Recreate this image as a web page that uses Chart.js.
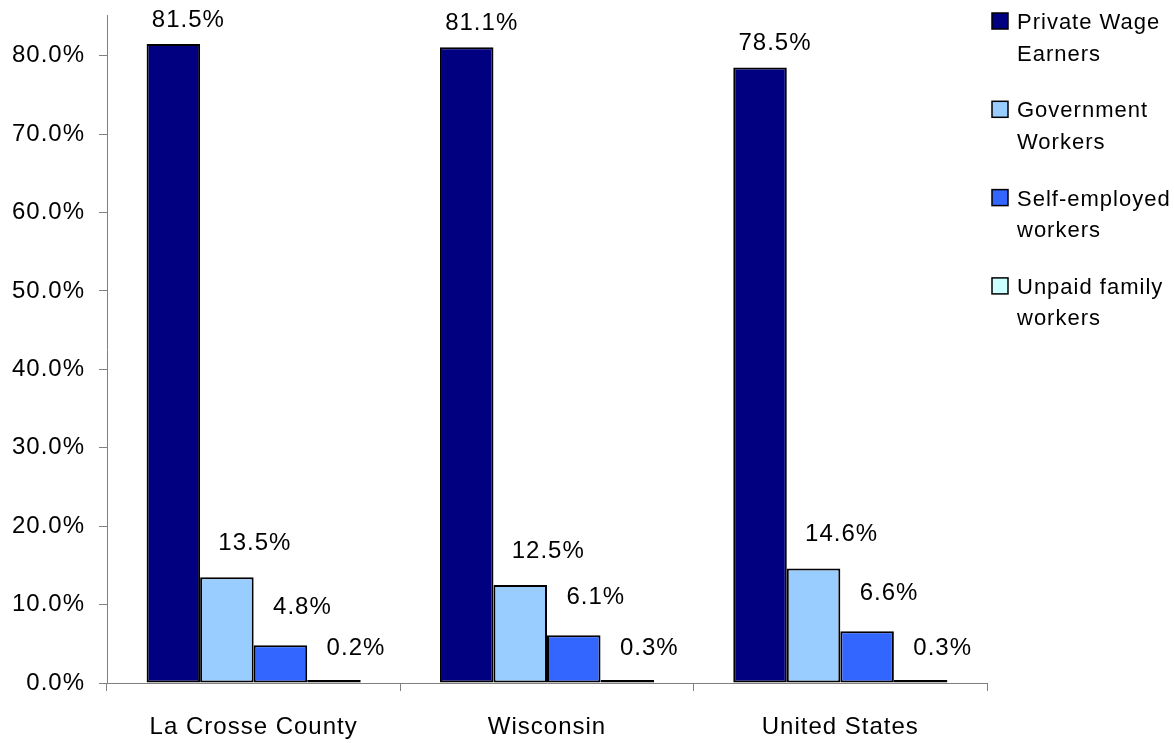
<!DOCTYPE html>
<html>
<head>
<meta charset="utf-8">
<title>Class of worker</title>
<script src="https://cdn.jsdelivr.net/npm/chart.js@4.4.1/dist/chart.umd.min.js"></script>
<style>
  html, body { margin: 0; padding: 0; background: #fff; }
  #wrap { width: 1174px; height: 743px; }
</style>
</head>
<body>
<div id="wrap"><canvas id="workerChart"></canvas></div>
<script>
// Class of worker shares (%)
const areas = ['La Crosse County', 'Wisconsin', 'United States'];
const seriesNames = [
    ['Private Wage', 'Earners'],
    ['Government', 'Workers'],
    ['Self-employed', 'workers'],
    ['Unpaid family', 'workers']
];
const privateWage = [81.5, 81.1, 78.5];
const government = [13.5, 12.5, 14.6];
const selfEmployed = [4.8, 6.1, 6.6];
const unpaidFamily = [0.2, 0.3, 0.3];
const yTicks = [0, 10, 20, 30, 40, 50, 60, 70, 80];

const colors = ['#000080', '#99CCFF', '#3366FF', '#CCFFFF'];
const FONT = '"Liberation Sans", Arial, sans-serif';

// canvas state gets reset on resize, so put the letter spacing back every time
const spacing = {
    id: 'spacing',
    beforeUpdate(chart) { chart.ctx.letterSpacing = '1px'; },
    beforeDraw(chart) { chart.ctx.letterSpacing = '1px'; }
};

// value labels, nudged up and to the right of each bar
const barValues = {
    id: 'barValues',
    afterDatasetsDraw(chart, args, opts) {
        const ctx = chart.ctx;
        ctx.save();
        ctx.font = '24px ' + FONT;
        ctx.fillStyle = '#000';
        ctx.textAlign = 'center';
        ctx.textBaseline = 'middle';
        chart.data.datasets.forEach((ds, i) => {
            chart.getDatasetMeta(i).data.forEach((bar, j) => {
                ctx.fillText(ds.data[j].toFixed(1) + '%', bar.x + opts.dx[i], bar.y + opts.dy[i]);
            });
        });
        ctx.restore();
    }
};

// legend on the right with two-line entries
const sideLegend = {
    id: 'sideLegend',
    afterDraw(chart, args, opts) {
        const ctx = chart.ctx;
        ctx.save();
        ctx.font = '22px ' + FONT;
        ctx.textAlign = 'left';
        ctx.textBaseline = 'alphabetic';
        chart.data.datasets.forEach((ds, i) => {
            const top = opts.top + i * opts.pitch;
            ctx.fillStyle = ds.backgroundColor;
            ctx.fillRect(opts.x, top, opts.box, opts.box);
            ctx.strokeStyle = '#000';
            ctx.lineWidth = 1.5;
            ctx.strokeRect(opts.x, top, opts.box, opts.box);
            ctx.fillStyle = '#000';
            seriesNames[i].forEach((line, k) => {
                ctx.fillText(line, opts.x + 25, top + 16 + k * opts.lineHeight);
            });
        });
        ctx.restore();
    }
};

new Chart(document.getElementById('workerChart'), {
    type: 'bar',
    data: {
        labels: areas,
        datasets: [privateWage, government, selfEmployed, unpaidFamily].map((vals, i) => ({
            label: seriesNames[i].join(' '),
            data: vals,
            backgroundColor: colors[i],
            borderColor: '#000',
            borderWidth: 2,
            borderSkipped: false,
            minBarLength: 3,
            categoryPercentage: 0.73,
            barPercentage: 1.0
        }))
    },
    options: {
        responsive: true,
        maintainAspectRatio: false,
        animation: false,
        layout: { padding: { top: 15, right: 187, bottom: 0, left: 0 } },
        plugins: {
            legend: { display: false },
            tooltip: { enabled: false },
            barValues: { dx: [15, 28, 22, 22], dy: [-24, -34, -38, -32] },
            sideLegend: { x: 992, top: 13, pitch: 88.3, box: 16, lineHeight: 31.5 }
        },
        scales: {
            x: {
                grid: { offset: true, drawOnChartArea: false, tickLength: 8, color: '#808080' },
                border: { color: '#808080', width: 1 },
                ticks: { color: '#000', font: { family: FONT, size: 24 }, padding: 22, maxRotation: 0 },
                afterFit(scale) {
                    scale.height = 60;
                    scale.paddingLeft = 0;
                    scale.paddingRight = 0;
                }
            },
            y: {
                min: 0,
                max: 85.2,
                grid: { drawOnChartArea: false, tickLength: 8, color: '#808080' },
                border: { color: '#808080', width: 1 },
                ticks: {
                    color: '#000',
                    font: { family: FONT, size: 24 },
                    padding: 14,
                    callback: v => v.toFixed(1) + '%'
                },
                afterBuildTicks(scale) {
                    scale.ticks = yTicks.map(v => ({ value: v }));
                },
                afterFit(scale) {
                    scale.width = 107;
                    scale.paddingTop = 0;
                    scale.paddingBottom = 0;
                }
            }
        }
    },
    plugins: [spacing, barValues, sideLegend]
});
</script>
</body>
</html>
